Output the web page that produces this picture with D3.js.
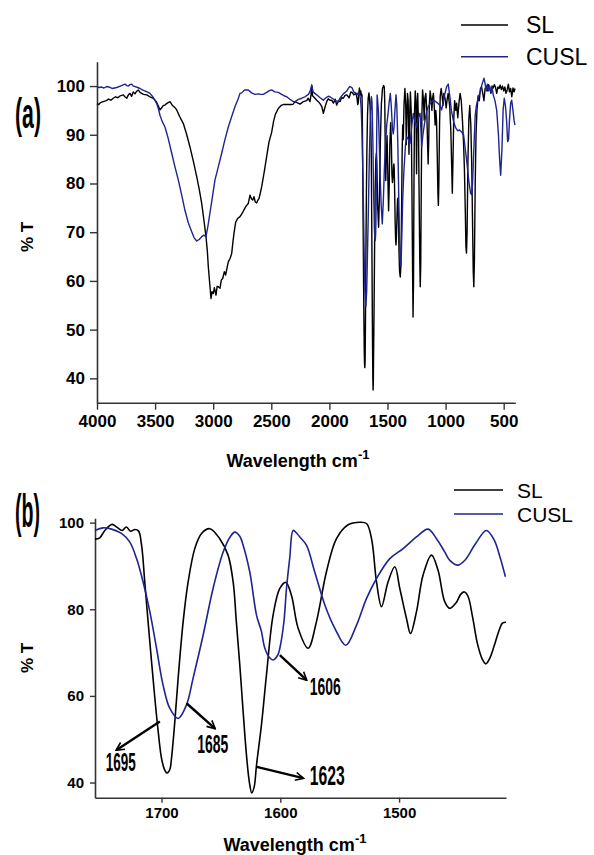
<!DOCTYPE html>
<html><head><meta charset="utf-8">
<script src="https://cdn.jsdelivr.net/npm/d3@7"></script>
<style>body{margin:0;background:#fff}svg{display:block}</style>
</head><body>
<svg id="c" width="594" height="855"></svg>
<script>
// ---------------- DATA ----------------
// Panel (a): full range 4000-400 cm-1
const slHighWn = [4000,3985,3970,3946,3920,3900,3880,3860,3840,3820,3800,3774,3760,3744,3730,3716,3702,3688,3673,3660,3645,3630,3616,3600,3572,3545,3515,3490,3470,3458,3445,3430,3415,3395,3372,3350,3330,3314,3290,3257,3230,3200,3170,3142,3120,3099,3080,3062,3050,3042,3030,3019,3010,2999,2990,2985,2976,2966,2956,2941,2930,2918,2904,2893,2880,2870,2855,2841,2830,2821,2806,2790,2769,2750,2726,2712,2698,2683,2670,2660,2649,2638,2626,2615,2606,2595,2583,2560,2540,2520,2497,2480,2465,2454,2440,2411,2397,2360,2325,2311,2296,2270,2253,2225,2195,2182,2167,2158,2152,2145,2124,2109,2095,2081,2065,2052,2040,2023,2010,1995,1980,1965,1950,1937,1923,1909,1895,1880,1865,1850,1830,1815,1800,1790,1771,1762];
const slHighT  = [96.4,96.2,96.6,96.8,97.0,97.3,97.1,97.5,97.8,97.6,98.0,98.2,97.8,97.5,98.2,98.5,97.9,98.8,98.4,98.9,99.2,98.7,98.5,98.3,98.2,97.8,97.5,96.8,95.8,95.1,95.5,96.0,96.1,96.5,96.8,96.0,95.6,95.1,93.8,92.3,90.2,87.5,84.5,81.4,78.8,75.9,72.5,69.1,66.0,62.9,59.5,56.4,57.8,57.4,58.6,58.1,57.1,58.9,58.8,58.5,60.2,60.5,61.9,61.2,62.8,63.9,64.6,65.6,68.0,69.8,72.1,72.8,73.2,73.9,75.0,75.5,75.9,77.6,76.8,76.6,77.3,76.2,76.0,76.6,76.9,78.0,79.3,82.5,85.5,88.5,90.5,92.8,94.2,94.7,95.4,96.1,96.2,96.2,96.2,96.3,96.8,96.5,96.3,96.8,97.0,97.5,96.8,98.2,100.2,98.0,97.5,97.1,96.8,96.4,95.8,94.4,95.5,96.8,97.4,97.1,97.1,96.5,97.3,96.1,96.9,96.8,97.6,97.5,98.1,98.2,97.6,98.8,98.6,98.2,98.5,97.5];

const slLowWn = [1406,1401,1396,1390,1386,1382,1378,1374,1369,1364,1358,1350,1343,1338,1333,1328,1322,1315,1310,1303,1296,1290,1284,1280,1276,1272,1267,1261,1255,1250,1245,1240,1234,1228,1222,1218,1214,1209,1204,1198,1190,1184,1178,1170,1162,1156,1150,1145,1140,1133,1125,1118,1112,1105,1098,1090,1084,1078,1072,1066,1062,1058,1052,1046,1038,1030,1022,1015,1005,995,988,978,965,955,948,942,937,930,922,912,905,895,885,875,865,855,845,838,830,825,820,815,808,800,792,783,775,768,762,757,752,745,738,730,720,710,700,690,680,670,660,650,640,630,620,610,600,590,580,570,560,550,540,530,520,510,500,490,480,470,460,450,440,430,420,410,403];
const slLowT  = [74,66,62,60.8,62.5,68,76,86,92,89,96,99.5,96,88,94,98.5,97,86,93,98.8,95,80,62,52.6,60,80,95,99,97,82,94,98.5,93,78,64,58.8,63,80,94,99.2,97,93,97.5,98.5,95,89,84,89,96,99,97.5,95,97.5,98.5,96,92,95,93,86,78,75.5,80,92,98,99.5,98,96,98.5,97.5,95.5,97,98.5,96,91,84,78,84,93,97,95,96.5,93.5,96.5,98.5,97,93,88,83,74,67,65.7,70,84,93,96,92,84,72,62,58.8,64,80,90,95,98,97,99.5,99.8,98.5,97,99.5,100,99,100.3,99.5,98.5,100,99.6,100.3,99.7,98.5,99.8,99.5,100.2,99.3,100,99,99.8,98.5,99.2,100.4,98.8,99.5,97.8,99.6,98.8,99.5];

const cuslHighWn = [4000,3980,3960,3940,3917,3895,3870,3850,3830,3800,3780,3759,3745,3731,3716,3702,3688,3673,3650,3630,3600,3570,3544,3520,3500,3486,3472,3458,3440,3415,3390,3357,3330,3300,3270,3243,3215,3185,3165,3142,3120,3099,3080,3062,3045,3028,3005,2985,2955,2927,2900,2870,2840,2812,2785,2769,2755,2730,2698,2670,2640,2610,2590,2569,2540,2520,2497,2470,2440,2410,2380,2367,2340,2310,2296,2270,2238,2210,2180,2165,2152,2140,2125,2109,2080,2052,2030,2010,1995,1970,1945,1923,1909,1880,1850,1835,1823,1806,1790,1775,1762];
const cuslHighT  = [99.9,99.7,99.8,99.6,99.9,99.8,99.5,99.6,99.7,100.0,100.2,100.4,100.1,100.0,100.3,100.4,100.0,99.9,99.7,99.5,99.1,98.8,98.5,97.8,97.0,96.4,95.4,94.0,92.8,91.6,89.5,86.2,83.5,80.7,77.5,74.5,72.0,70.1,68.9,68.2,68.5,69.1,69.4,69.1,71.3,73.9,77.5,80.7,83.5,86.2,88.9,91.6,93.8,95.8,97.4,98.5,98.6,99.2,99.2,98.6,98.3,98.4,98.3,98.3,98.7,99.0,99.2,98.8,98.7,98.3,97.9,97.8,97.3,96.8,96.8,97.2,97.5,97.8,98.3,99.0,100.2,98.8,98.5,98.2,97.6,97.1,97.6,97.9,97.8,97.4,97.0,96.8,97.5,98.4,99.0,99.6,99.9,99.7,98.8,98.6,98.4];

const cuslLowWn = [1405,1398,1390,1384,1378,1370,1360,1345,1335,1320,1306,1290,1278,1262,1249,1235,1220,1212,1206,1195,1177,1160,1149,1130,1106,1085,1063,1050,1034,1015,991,977,962,950,934,915,895,880,860,845,835,820,800,785,776,768,755,745,735,720,700,685,669,660,650,640,630,620,610,600,590,575,560,545,535,526,515,505,495,485,475,466,458,450,440,431,420,411,403];
const cuslLowT  = [80,70,64,63,68,76,82,88,89.6,89,88.2,92,94.4,92.5,91.6,93.5,94.4,91,87.5,90,93,95,95.8,96.5,97.1,96.8,96.4,96,95.1,97.5,99.9,100.4,97.6,95,93,91.5,90.8,91,90.5,90,88,85,80.5,78,77.7,80,88,94,96,97.5,99,100.5,101.6,100.5,99,100.4,99,100,98.6,99.8,98.2,97,95,90,85,81.7,87,95,97.5,96,93,88.6,89,93,96.5,97.1,95,93,92];

// Panel (b): expanded 1756-1410 cm-1 (also used for that span of panel a)
const slZoomWn = [1756,1752,1747.7,1741.6,1737.4,1733.2,1729.5,1726.1,1722.5,1719.4,1716.8,1714.1,1711.3,1708.4,1705.6,1702.8,1700,1697.5,1695.3,1693,1691.6,1688.8,1686,1681.8,1677.6,1672,1666.3,1659.3,1651,1644,1639.7,1637,1634.1,1631.3,1628.5,1626,1624,1622,1620,1615.8,1611.6,1606.1,1600.4,1595.4,1590.6,1585,1576.6,1569.6,1561.2,1552.7,1542.9,1533.1,1527.4,1523.2,1519,1514.8,1509.3,1503.6,1499.4,1493.8,1490.4,1485.4,1479.8,1472.7,1467.2,1461.5,1457.3,1452,1448,1445,1442,1438,1434,1430,1427,1424,1420,1416,1413,1410];
const slZoomT  = [96.2,96.5,98.2,99.6,98.9,98.2,99.0,98.0,98.4,98.1,94.8,86.3,77.1,67.9,59.4,51.8,45.6,43.0,42.2,43.0,45.6,54.1,64.1,77.1,86.3,94.0,97.5,98.6,96.3,92.5,86.3,77.1,67.1,56.4,46.4,40.0,37.6,39.0,44.1,53.5,65.0,78.6,84.8,86.2,83.2,75.6,71.0,77.1,88.6,96.3,99.5,100.1,99.8,96.3,86.3,80.6,86.3,89.8,84.8,77.9,74.4,79.4,87.9,92.5,89.0,81.7,80.2,81.5,83.5,84.0,83.0,78.0,72.0,68.5,67.4,68.5,71.5,75.0,76.8,77.0];
const cuslZoomWn = [1756,1749.2,1742.1,1733.7,1726.7,1721,1715.5,1709.8,1704.2,1698.7,1693,1686,1679,1673.4,1665,1656.6,1648.1,1642,1638.3,1634,1631.3,1625.7,1620,1616,1613,1609,1606,1602,1600.4,1597,1594.8,1592,1589.2,1586,1583.6,1578,1571,1562.5,1554.1,1544.9,1535.9,1527.4,1519,1507.8,1496.6,1485.4,1475.6,1468.5,1461.5,1457.3,1450.4,1444,1436,1426.5,1420,1415,1410.5];
const cuslZoomT  = [98.2,98.8,98.5,97.5,95.5,91.7,86.3,79.4,71.0,62.5,57.1,54.8,57.9,64.1,74.0,84.8,93.2,96.8,97.8,96.8,94.8,88.6,78.6,75.0,71.0,68.8,68.3,69.5,71.0,77.0,84.8,92.0,98.2,97.5,96.7,94.8,88.6,81.0,75.6,71.7,76.3,82.5,87.1,91.7,94.0,96.7,98.5,96.3,93.2,91.3,90.2,91.5,95.0,98.2,96.0,92.0,87.5];

// Tick values
const xTicksA = [4000,3500,3000,2500,2000,1500,1000,500];
const yTicksA = [40,50,60,70,80,90,100];
const xTicksB = [1700,1600,1500];
const yTicksB = [40,60,80,100];
const seriesNames = ['SL','CUSL'];

// Peak annotations for panel (b) (data coordinates)
const annLabels = ['1695','1685','1623','1606'];
const annFromWn = [1701.4,1679.0,1619.8,1600.4];
const annFromT  = [54.1,58.3,43.6,69.4];
const annToWn   = [1737.9,1655.1,1580.8,1578.0];
const annToT    = [47.5,52.5,41.0,63.7];
const annTextWn = [1746.9,1670.0,1575.2,1575.2];
const annTextT  = [42.7,46.8,39.5,60.2];

// ---------------- DRAWING ----------------
const FONT = 'Liberation Sans, Arial, Helvetica, sans-serif';
const BLUE = '#1e2490';
const svg = d3.select('#c');
const zip = (w, t) => w.map((d, i) => ({wn: d, t: t[i]}));

const defs = svg.append('defs');
defs.append('marker').attr('id', 'ah').attr('viewBox', '0 0 10 10')
  .attr('refX', 8.5).attr('refY', 5).attr('markerWidth', 4.2).attr('markerHeight', 4.2)
  .attr('orient', 'auto')
  .append('path').attr('d', 'M1,1 L9,5 L1,9').attr('fill', 'none')
  .attr('stroke', '#000').attr('stroke-width', 1.6);

function styleAxis(g, fs) {
  g.select('.domain').attr('stroke', '#333').attr('stroke-width', 1.6);
  g.selectAll('.tick line').attr('stroke', '#333').attr('stroke-width', 1.4);
  g.selectAll('.tick text').attr('font-family', FONT).attr('font-weight', 'bold')
    .attr('font-size', fs).attr('fill', '#000');
}

function xLabel(x, y) {
  const t = svg.append('text').attr('x', x).attr('y', y).attr('font-family', FONT)
    .attr('font-weight', 'bold').attr('font-size', 18).attr('fill', '#000');
  t.append('tspan').text('Wavelength cm');
  t.append('tspan').attr('dy', -8).attr('font-size', 13).text('-1');
}
function yLabel(x, y) {
  svg.append('text').attr('transform', `translate(${x},${y}) rotate(-90)`)
    .attr('text-anchor', 'middle').attr('font-family', FONT).attr('font-weight', 'bold')
    .attr('font-size', 17).attr('fill', '#000').text('% T');
}
// condensed bold text: fit to a target width w and height scale sy
function condensed(txt, x, y, fs, w, sy) {
  const t = svg.append('text').attr('x', 0).attr('y', 0).attr('font-family', FONT)
    .attr('font-weight', 'bold').attr('font-size', fs).attr('fill', '#000').text(txt);
  const nat = t.node().getComputedTextLength() || fs * 2;
  t.attr('transform', `translate(${x},${y}) scale(${w / nat},${sy})`);
}
function legend(x0, x1, ys, tx, fs) {
  const cols = ['#000', BLUE];
  seriesNames.forEach((n, i) => {
    svg.append('line').attr('x1', x0).attr('x2', x1).attr('y1', ys[i]).attr('y2', ys[i])
      .attr('stroke', cols[i]).attr('stroke-width', 1.6);
    svg.append('text').attr('x', tx).attr('y', ys[i]).attr('dy', '0.36em')
      .attr('font-family', FONT).attr('font-size', fs).attr('fill', '#000').text(n);
  });
}

// ---- Panel (a)
const xA = d3.scaleLinear().domain([4000, 400]).range([97, 515.3]);
const yA = d3.scaleLinear().domain([35, 105]).range([402.7, 61.7]);

const slA = zip([...slHighWn, ...slZoomWn, ...slLowWn], [...slHighT, ...slZoomT, ...slLowT]);
const cuslA = zip([...cuslHighWn, ...cuslZoomWn, ...cuslLowWn], [...cuslHighT, ...cuslZoomT, ...cuslLowT]);

const lineA = d3.line().x(d => xA(d.wn)).y(d => yA(d.t)).curve(d3.curveLinear);

const gxA = svg.append('g').attr('transform', `translate(0,${yA(35)})`)
  .call(d3.axisBottom(xA).tickValues(xTicksA).tickSize(7).tickSizeOuter(0).tickPadding(5).tickFormat(d3.format('d')));
styleAxis(gxA, 17);
const gyA = svg.append('g').attr('transform', `translate(${xA(4000)},0)`)
  .call(d3.axisLeft(yA).tickValues(yTicksA).tickSize(7).tickSizeOuter(0).tickPadding(5));
styleAxis(gyA, 17);

svg.append('path').datum(slA).attr('d', lineA).attr('fill', 'none')
  .attr('stroke', '#000').attr('stroke-width', 1.4).attr('stroke-linejoin', 'round');
svg.append('path').datum(cuslA).attr('d', lineA).attr('fill', 'none')
  .attr('stroke', BLUE).attr('stroke-width', 1.4).attr('stroke-linejoin', 'round');

xLabel(226.5, 467);
yLabel(33, 237);
condensed('(a)', 15, 128, 24, 26, 1.77);
legend(461, 508, [25, 56.7], 526, 23);

// ---- Panel (b)
const xB = d3.scaleLinear().domain([1756, 1410]).range([95, 506]);
const yB = d3.scaleLinear().domain([36.5, 101]).range([797.7, 518.3]);
const lineB = d3.line().x(d => xB(d.wn)).y(d => yB(d.t)).curve(d3.curveCatmullRom.alpha(0.5));

const gxB = svg.append('g').attr('transform', `translate(0,${yB(36.5)})`)
  .call(d3.axisBottom(xB).tickValues(xTicksB).tickSize(5).tickSizeOuter(0).tickPadding(5).tickFormat(d3.format('d')));
styleAxis(gxB, 15);
const gyB = svg.append('g').attr('transform', `translate(${xB(1756)},0)`)
  .call(d3.axisLeft(yB).tickValues(yTicksB).tickSize(5).tickSizeOuter(0).tickPadding(6));
styleAxis(gyB, 15);

svg.append('path').datum(zip(slZoomWn, slZoomT)).attr('d', lineB).attr('fill', 'none')
  .attr('stroke', '#000').attr('stroke-width', 1.6);
svg.append('path').datum(zip(cuslZoomWn, cuslZoomT)).attr('d', lineB).attr('fill', 'none')
  .attr('stroke', BLUE).attr('stroke-width', 1.6);

xLabel(223.5, 851);
yLabel(33, 658);
condensed('(b)', 15, 527, 24, 25, 1.95);
legend(454, 503, [490, 514], 517, 21);

// annotations
const annSize = [25, 25, 28, 24];
const annLen  = [30, 31, 35, 31];
annLabels.forEach((lab, i) => {
  svg.append('line')
    .attr('x1', xB(annFromWn[i])).attr('y1', yB(annFromT[i]))
    .attr('x2', xB(annToWn[i])).attr('y2', yB(annToT[i]))
    .attr('stroke', '#000').attr('stroke-width', 2.4).attr('marker-end', 'url(#ah)');
  condensed(lab, xB(annTextWn[i]), yB(annTextT[i]), annSize[i], annLen[i], 1);
});
</script>
</body></html>
